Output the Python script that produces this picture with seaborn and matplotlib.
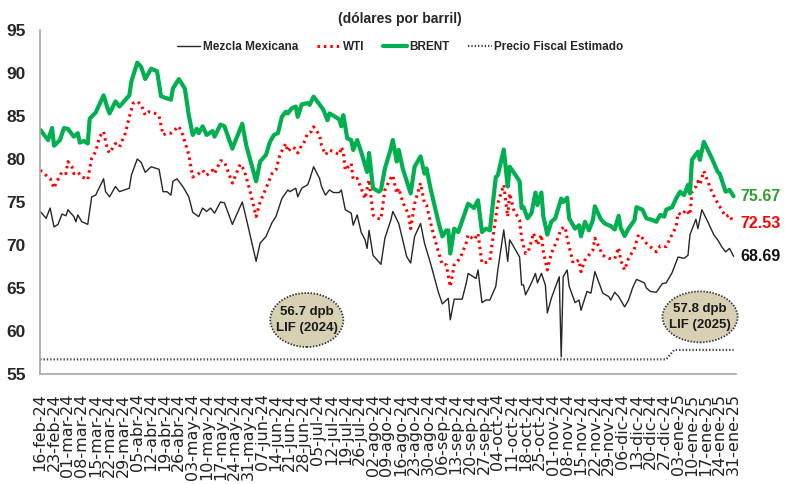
import pandas as pd
import matplotlib.pyplot as plt
import seaborn as sns
from matplotlib.lines import Line2D
from matplotlib.patches import Ellipse

# Data (days counted from START)
START = "2024-02-16"
END = "2025-01-31"
MESES = ["ene", "feb", "mar", "abr", "may", "jun", "jul", "ago", "sep", "oct", "nov", "dic"]

brent_day = [0, 4, 6, 7, 10, 12, 14, 17, 19, 20, 22, 24, 25, 28, 32, 34, 35, 38, 40, 45, 46, 49, 51, 53, 56, 59,
             61, 64, 66, 67, 70, 73, 75, 77, 79, 80, 82, 84, 87, 88, 91, 93, 97, 102, 104, 109, 111, 114, 116, 118,
             120, 122, 124, 125, 127, 129, 130, 132, 135, 136, 138, 141, 143, 145, 146, 149, 151, 152, 153, 155,
             157, 158, 160, 162, 165, 166, 168, 171, 172, 174, 177, 178, 180, 181, 183, 187, 189, 192, 194, 195,
             197, 201, 203, 205, 206, 207, 209, 211, 214, 216, 219, 221, 223, 225, 227, 230, 231, 234, 236, 237,
             240, 242, 243, 244, 246, 248, 250, 251, 253, 254, 256, 258, 260, 263, 264, 266, 267, 270, 272, 273,
             275, 277, 279, 280, 283, 285, 288, 290, 292, 293, 295, 297, 300, 301, 304, 306, 309, 311, 313, 315,
             316, 319, 321, 323, 325, 327, 328, 329, 332, 333, 335, 337, 339, 342, 343, 346, 348, 350]
brent = [83.4, 82.2, 83.6, 81.55, 82.2, 83.6, 83.5, 82.6, 83.0, 81.9, 82.1, 81.8, 84.7, 85.4, 87.4, 85.9, 85.3,
         86.7, 86.1, 87.4, 89.0, 91.2, 90.7, 89.3, 90.5, 90.2, 87.3, 87.05, 86.9, 88.2, 89.3, 88.2, 85.1, 82.8,
         83.5, 83.0, 83.8, 82.8, 83.25, 82.6, 84.0, 83.8, 81.2, 84.1, 81.6, 77.4, 79.7, 80.5, 82.0, 82.8, 83.0,
         84.9, 85.5, 85.3, 85.9, 86.1, 84.9, 86.35, 86.5, 86.3, 87.25, 86.35, 85.7, 84.5, 85.3, 84.9, 84.6, 83.8,
         85.1, 82.4, 82.2, 81.05, 82.2, 80.85, 78.5, 80.7, 76.6, 76.2, 76.4, 78.9, 81.2, 82.2, 79.7, 81.05, 78.9,
         76.0, 79.1, 80.3, 78.3, 78.9, 76.6, 72.7, 71.0, 71.7, 71.7, 69.0, 71.9, 71.5, 73.5, 74.8, 74.3, 75.2,
         71.5, 71.9, 71.7, 77.9, 78.1, 81.1, 76.8, 79.1, 78.1, 77.4, 74.3, 74.4, 73.1, 73.7, 76.1, 74.65, 76.1,
         73.3, 71.2, 72.7, 73.1, 75.4, 75.0, 75.5, 73.1, 71.9, 72.3, 71.0, 72.7, 71.7, 72.9, 74.5, 73.0, 72.5,
         72.2, 71.8, 73.4, 72.0, 71.05, 71.9, 72.9, 74.4, 74.1, 73.1, 72.9, 72.7, 73.5, 73.3, 74.1, 74.4, 75.4,
         76.2, 75.8, 77.0, 76.0, 79.9, 80.85, 79.9, 82.0, 81.05, 80.1, 78.5, 78.3, 76.2, 76.4, 75.67]

wti_day = [0, 1, 3, 5, 7, 8, 11, 13, 14, 16, 17, 19, 21, 23, 24, 26, 28, 30, 32, 34, 35, 38, 40, 43, 45, 47, 49,
           51, 53, 55, 58, 60, 62, 64, 66, 70, 72, 75, 77, 80, 82, 84, 87, 88, 91, 93, 97, 101, 103, 106, 109, 111,
           114, 117, 119, 121, 124, 125, 127, 129, 130, 132, 133, 135, 137, 138, 141, 142, 144, 146, 148, 151, 152,
           153, 154, 157, 158, 160, 162, 164, 166, 168, 170, 172, 174, 177, 178, 180, 181, 183, 186, 187, 189, 192,
           194, 195, 198, 201, 203, 205, 207, 209, 212, 215, 216, 219, 221, 223, 226, 227, 230, 231, 234, 236, 237,
           239, 242, 243, 245, 247, 249, 251, 253, 254, 256, 258, 261, 263, 265, 266, 269, 272, 273, 275, 279, 280,
           284, 287, 290, 292, 293, 295, 297, 300, 302, 304, 306, 309, 311, 313, 316, 318, 321, 322, 324, 326, 328,
           329, 331, 332, 333, 335, 337, 339, 342, 344, 346, 348, 350]
wti = [78.7, 78.5, 78.1, 77.75, 76.6, 77.2, 78.5, 78.3, 79.7, 79.1, 78.3, 78.5, 77.9, 77.75, 77.6, 80.1, 80.85,
       82.6, 83.2, 81.05, 80.7, 81.8, 81.4, 83.0, 84.9, 86.5, 86.7, 86.3, 85.1, 85.5, 85.3, 85.0, 82.8, 83.0, 83.0,
       83.8, 82.8, 80.5, 77.9, 78.3, 78.7, 78.1, 78.7, 78.3, 79.8, 79.7, 77.2, 79.4, 78.7, 76.2, 73.3, 75.0, 76.6,
       78.3, 78.7, 80.5, 81.8, 80.85, 81.4, 81.2, 80.7, 81.6, 81.8, 83.0, 83.2, 83.75, 82.8, 81.6, 80.5, 81.05,
       80.85, 80.5, 81.4, 80.85, 78.7, 79.5, 77.6, 77.75, 76.6, 75.4, 77.6, 73.5, 73.1, 73.0, 76.4, 77.8, 78.1,
       76.0, 76.6, 75.0, 73.5, 71.9, 74.8, 77.2, 74.8, 74.65, 71.7, 69.2, 67.7, 67.7, 65.15, 67.7, 68.45, 70.2,
       71.2, 70.6, 71.35, 67.9, 68.0, 68.2, 73.3, 74.85, 77.0, 73.3, 76.0, 74.1, 72.9, 70.8, 69.0, 69.6, 71.4,
       70.0, 71.2, 69.2, 67.1, 69.0, 70.6, 71.9, 72.1, 70.8, 67.9, 68.25, 66.9, 68.25, 69.4, 70.8, 68.8, 68.45,
       68.4, 69.7, 68.25, 67.1, 68.45, 69.6, 71.2, 70.8, 70.2, 69.6, 69.2, 69.9, 69.8, 70.8, 72.1, 73.7, 73.5,
       74.1, 73.5, 76.2, 76.8, 77.4, 77.0, 78.6, 77.4, 76.2, 74.85, 74.1, 73.3, 73.5, 72.53]

mezcla_day = [0, 3, 5, 7, 9, 11, 13, 14, 17, 18, 19, 21, 24, 26, 28, 32, 33, 35, 38, 40, 45, 46, 49, 51, 53, 56,
              60, 62, 64, 66, 67, 69, 72, 75, 77, 80, 82, 84, 86, 88, 91, 93, 97, 102, 104, 109, 111, 114, 117, 119,
              122, 125, 126, 129, 130, 132, 135, 136, 138, 141, 142, 144, 146, 148, 151, 152, 154, 157, 158, 160,
              162, 164, 165, 166, 168, 172, 174, 177, 178, 181, 185, 187, 189, 192, 194, 197, 201, 203, 206, 207,
              209, 213, 215, 216, 220, 221, 223, 225, 227, 230, 231, 234, 236, 237, 242, 243, 244, 245, 248, 250,
              251, 253, 255, 256, 258, 262, 263, 264, 266, 267, 270, 272, 273, 276, 278, 280, 284, 287, 288, 290,
              292, 295, 297, 299, 301, 305, 306, 308, 311, 314, 316, 319, 322, 325, 327, 328, 331, 332, 334, 337,
              340, 342, 344, 346, 348, 350]
mezcla = [73.9, 73.1, 74.3, 72.1, 72.4, 73.6, 73.4, 74.1, 73.3, 72.7, 73.5, 72.7, 72.4, 75.6, 75.8, 77.7, 76.2,
          75.6, 76.8, 76.2, 76.6, 78.1, 80.0, 79.6, 78.45, 79.1, 78.8, 76.2, 76.2, 75.8, 77.4, 77.7, 76.8, 75.6,
          73.8, 73.3, 74.3, 73.9, 74.3, 73.7, 75.0, 74.9, 72.4, 75.0, 73.1, 68.1, 70.2, 71.0, 72.6, 73.3, 75.4,
          76.4, 76.2, 76.6, 75.6, 76.6, 77.0, 77.6, 79.1, 77.75, 76.8, 75.8, 76.4, 76.1, 76.1, 76.4, 74.1, 73.7,
          72.3, 73.5, 71.5, 70.6, 69.6, 71.7, 68.8, 67.75, 70.8, 72.9, 73.9, 72.5, 68.65, 67.9, 71.0, 72.5, 70.2,
          67.9, 64.5, 63.15, 63.8, 61.3, 63.7, 63.7, 65.5, 66.7, 66.1, 67.1, 63.3, 63.6, 63.6, 65.2, 67.1, 71.75,
          68.1, 70.6, 68.6, 65.35, 65.35, 64.2, 65.6, 66.7, 65.6, 66.7, 65.35, 62.1, 63.8, 66.3, 57.0, 66.3, 67.1,
          65.2, 63.3, 63.6, 62.4, 64.6, 64.4, 66.9, 64.4, 64.0, 63.6, 64.5, 64.0, 62.8, 63.6, 65.0, 66.0, 65.6,
          65.0, 64.6, 64.5, 65.5, 65.6, 66.8, 68.6, 68.45, 68.8, 71.2, 73.0, 71.9, 74.1, 72.7, 71.2, 70.6, 69.8,
          69.2, 69.6, 68.69]

fiscal_dates = ["2024-02-16", "2024-12-28", "2025-01-01", "2025-01-31"]
fiscal = [56.7, 56.7, 57.8, 57.8]

GREEN = "#00B050"
RED = "#FF0000"
BLACK = "#262626"


def to_dates(days):
    return pd.Timestamp(START) + pd.to_timedelta(days, unit="D")


def etiqueta(d):
    return f"{d.day:02d}-{MESES[d.month - 1]}-{d:%y}"


def main():
    sns.set_style("white")
    plt.rcParams["font.family"] = ["Liberation Sans", "DejaVu Sans"]

    fig = plt.figure(figsize=(7.86, 4.84), dpi=100)
    ax = fig.add_axes([0.0503, 0.2273, 0.8855, 0.7107])

    sns.lineplot(x=to_dates(mezcla_day), y=mezcla, ax=ax, color=BLACK, lw=1.0)
    sns.lineplot(x=to_dates(wti_day), y=wti, ax=ax, color=RED, lw=2.2, linestyle=(0, (0.8, 1.3)))
    sns.lineplot(x=to_dates(brent_day), y=brent, ax=ax, color=GREEN, lw=3.0)
    sns.lineplot(x=pd.to_datetime(fiscal_dates), y=fiscal, ax=ax, color="#404040", lw=1.6,
                 linestyle=(0, (0.6, 0.9)))

    start = pd.Timestamp(START)
    ax.set_xlim(start - pd.Timedelta(hours=8), start + pd.Timedelta(days=351))
    ax.set_ylim(55, 95)
    ax.set_yticks(range(55, 96, 5))
    ax.tick_params(axis="y", length=0, pad=10, labelsize=12.5)
    for t in ax.get_yticklabels():
        t.set_fontweight("bold")

    ticks = pd.date_range(START, END, freq="7D")
    ax.set_xticks(ticks)
    ax.set_xticklabels([etiqueta(d) for d in ticks], rotation=90, fontsize=11.5,
                       family="DejaVu Sans", color="#222222")
    ax.tick_params(axis="x", length=0, pad=14)
    ax.set_xlabel("")
    ax.set_ylabel("")

    sns.despine(ax=ax)
    for side in ["left", "bottom"]:
        ax.spines[side].set_color("#A6A6A6")
        ax.spines[side].set_linewidth(1.2)

    # last values
    last = to_dates([350])[0]
    for val, col in [(brent[-1], "#2DA02D"), (wti[-1], RED), (mezcla[-1], "#111111")]:
        ax.annotate(f"{val:.2f}", xy=(last, val), xytext=(5, 0), textcoords="offset points",
                    ha="left", va="center", fontsize=11.5, fontweight="bold", color=col,
                    annotation_clip=False)

    # LIF ellipses
    for cx, cy, w, h, txt in [(0.384, 0.157, 0.105, 0.157, "56.7 dpb\nLIF (2024)"),
                              (0.949, 0.166, 0.108, 0.148, "57.8 dpb\nLIF (2025)")]:
        ax.add_patch(Ellipse((cx, cy), w, h, transform=ax.transAxes, facecolor="#D7D0B3",
                             edgecolor="#333333", lw=1.3, linestyle=(0, (0.8, 0.9)), clip_on=False,
                             zorder=5))
        ax.text(cx, cy, txt, transform=ax.transAxes, ha="center", va="center", fontsize=9.5,
                fontweight="bold", linespacing=1.5, color="#1a1a1a", zorder=6)

    fig.text(400 / 786, 1 - 19 / 484, "(dólares por barril)", ha="center", va="center",
             fontsize=10, fontweight="bold")

    handles = [
        Line2D([], [], color=BLACK, lw=1.0),
        Line2D([], [], color=RED, lw=2.2, linestyle=(0, (0.8, 1.3))),
        Line2D([], [], color=GREEN, lw=3.0),
        Line2D([], [], color="#404040", lw=1.6, linestyle=(0, (0.6, 0.9))),
    ]
    labels = ["Mezcla Mexicana", "WTI", "BRENT", "Precio Fiscal Estimado"]
    leg = fig.legend(handles, labels, loc="center", bbox_to_anchor=(400 / 786, 1 - 47 / 484), ncol=4,
                     frameon=False, fontsize=8.5, handlelength=2.0, handletextpad=0.2, columnspacing=1.6)
    for t in leg.get_texts():
        t.set_fontweight("bold")

    fig.savefig("out.png", dpi=100)


if __name__ == "__main__":
    main()
